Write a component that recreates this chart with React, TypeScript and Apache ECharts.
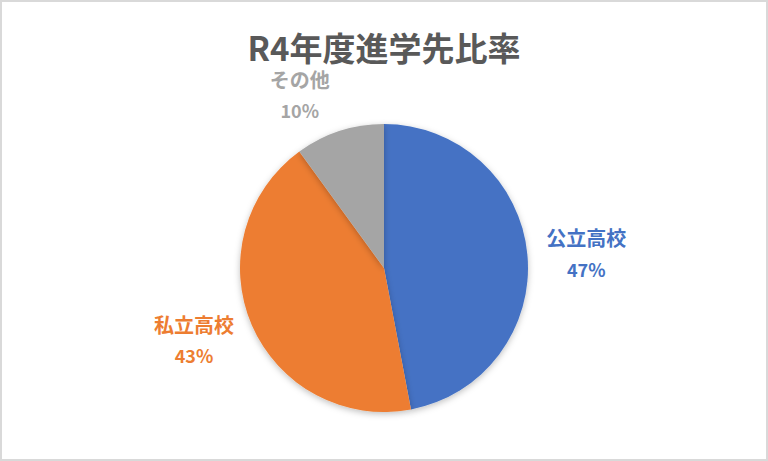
import { useEffect, useRef } from 'react';
import * as echarts from 'echarts';

const categories = ['公立高校', '私立高校', 'その他'];
const values = [47, 43, 10];
const colors = ['#4472C4', '#ED7D31', '#A5A5A5'];
// distance of each label from the pie edge
const labelOffsets = [14, 14, 38];
// small nudges to match the Excel label placement
const labelDx = [0, 0, 7];
const labelDy = [0, 9, 0];

const FONT = '"Noto Sans CJK JP", "Noto Sans", sans-serif';

export default function App() {
  const chartRef = useRef<HTMLDivElement>(null);

  useEffect(() => {
    document.body.style.margin = '0';
    if (!chartRef.current) return;
    const chart = echarts.init(chartRef.current, undefined, { renderer: 'svg' });

    const option: echarts.EChartsOption = {
      animation: false,
      backgroundColor: '#ffffff',
      title: {
        text: 'R4年度進学先比率',
        left: 'center',
        top: 31,
        padding: 0,
        textStyle: {
          fontFamily: FONT,
          fontSize: 33,
          lineHeight: 28,
          fontWeight: 'bold',
          color: '#595959',
        },
      },
      series: [
        {
          type: 'pie',
          center: ['50%', 266],
          radius: 144,
          startAngle: 90,
          clockwise: true,
          avoidLabelOverlap: false,
          itemStyle: {
            shadowBlur: 6,
            shadowOffsetY: 2,
            shadowColor: 'rgba(0,0,0,0.25)',
          },
          label: {
            show: true,
            position: 'outside',
            alignTo: 'none',
            formatter: '{n|{b}}\n{p|{d}%}',
            rich: {
              n: { fontFamily: FONT, fontSize: 20, fontWeight: 'bold', lineHeight: 31, align: 'center' },
              p: { fontFamily: FONT, fontSize: 18, fontWeight: 'bold', lineHeight: 31, align: 'center' },
            },
          },
          labelLine: { show: false, length2: 0 },
          labelLayout: (params: any) => ({
            dx: labelDx[params.dataIndex],
            dy: labelDy[params.dataIndex],
          }),
          emphasis: { disabled: true },
          data: categories.map((name, i) => ({
            name,
            value: values[i],
            itemStyle: { color: colors[i] },
            label: {
              rich: {
                n: { color: colors[i] },
                p: { color: colors[i] },
              },
            },
            labelLine: { length: labelOffsets[i] },
          })),
        },
      ],
    };

    chart.setOption(option);
    return () => chart.dispose();
  }, []);

  return (
    <div
      ref={chartRef}
      style={{
        width: 768,
        height: 461,
        boxSizing: 'border-box',
        border: '2px solid #d9d9d9',
      }}
    />
  );
}
